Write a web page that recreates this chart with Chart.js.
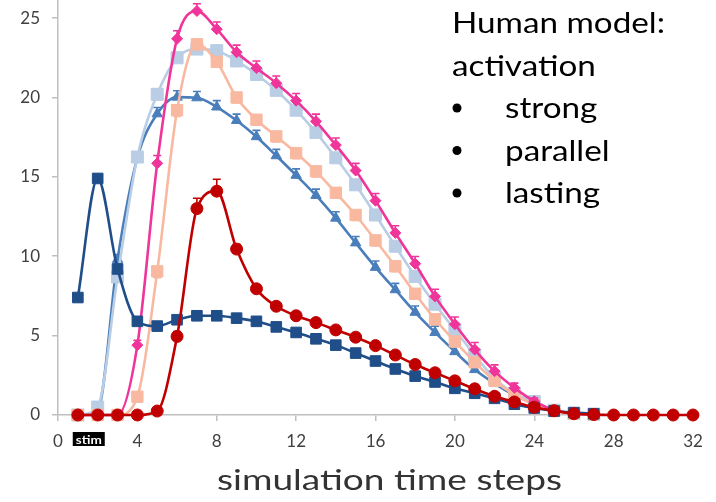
<!DOCTYPE html>
<html>
<head>
<meta charset="utf-8">
<style>
  html, body { margin: 0; padding: 0; background: #fff; }
  #wrap { width: 716px; height: 502px; }
</style>
</head>
<body>
<div id="wrap"><canvas id="myChart" width="716" height="502"></canvas></div>
<script src="https://cdn.jsdelivr.net/npm/chart.js@4.4.0/dist/chart.umd.min.js"></script>
<script>
    // time steps 1..32
    const steps = [1, 2, 3, 4, 5, 6, 7, 8, 9, 10, 11, 12, 13, 14, 15, 16,
        17, 18, 19, 20, 21, 22, 23, 24, 25, 26, 27, 28, 29, 30, 31, 32];
    const xTicks = [0, 4, 8, 12, 16, 20, 24, 28, 32];
    const yTicks = [0, 5, 10, 15, 20, 25];

    const navy = [7.4, 14.9, 9.2, 5.9, 5.6, 6.0, 6.25, 6.25, 6.1, 5.9, 5.55, 5.2, 4.8, 4.4, 3.9, 3.4,
        2.9, 2.45, 2.08, 1.68, 1.37, 1.05, 0.68, 0.44, 0.25, 0.15, 0.08];
    const red = [0, 0, 0, 0, 0.25, 4.95, 13.0, 14.1, 10.45, 7.95, 6.85, 6.25, 5.82, 5.36, 4.9, 4.37,
        3.78, 3.18, 2.66, 2.15, 1.65, 1.18, 0.82, 0.49, 0.27, 0.08, 0.03, 0, 0, 0, 0, 0];
    const pink = [0, 0, 0, 4.4, 15.85, 23.7, 25.45, 24.3, 22.85, 21.85, 20.9, 19.8, 18.5, 17.0, 15.4, 13.5,
        11.47, 9.53, 7.47, 5.72, 4.12, 2.76, 1.71, 0.87, 0.3, 0.1, 0.05];
    const lightBlue = [0, 0.5, 8.7, 16.25, 20.2, 22.5, 23.05, 22.95, 22.3, 21.45, 20.45, 19.2, 17.8, 16.2, 14.5, 12.6,
        10.63, 8.73, 6.98, 5.36, 3.78, 2.3, 1.35, 0.85, 0.3, 0.1, 0.05];
    const salmon = [0, 0, 0, 1.15, 9.05, 19.2, 23.35, 22.25, 20.0, 18.6, 17.55, 16.5, 15.35, 14.0, 12.6, 11.0,
        9.37, 7.64, 6.03, 4.64, 3.32, 2.15, 1.29, 0.65, 0.25, 0.1, 0.05];
    const blue = [0, 0.3, 9.8, 16.2, 18.97, 20.02, 19.98, 19.4, 18.55, 17.53, 16.33, 15.1, 13.83, 12.4, 10.84, 9.3,
        7.89, 6.47, 5.2, 3.99, 2.86, 1.98, 1.25, 0.7, 0.3, 0.1, 0.05];

    // error bar lengths (+ up, - down)
    const redErr = [0, 0, 0, 0, 0.2, 0.3, 0.65, 0.75, 0.3, 0.2, 0.2, 0.2, 0.2, 0.2, 0.2, 0.2,
        0.2, 0.2, 0.2, 0.2, 0.2, 0.1, 0.1, 0.1, 0, 0, 0, 0, 0, 0, 0, 0];
    const pinkErr = [0, 0, 0, 0.3, 0.5, 0.5, 0.45, 0.45, 0.45, 0.45, 0.45, 0.45, 0.45, 0.45, 0.45, 0.45,
        0.45, 0.45, 0.45, 0.45, 0.45, 0.4, 0.3, 0.2, 0, 0, 0];
    const salmonErr = [0, 0, 0, -0.3, -0.4, -0.4, -0.35, -0.35, -0.35, -0.35, -0.35, -0.35, -0.35, -0.35, -0.35, -0.35,
        -0.35, -0.35, -0.35, -0.35, -0.3, -0.3, -0.2, -0.2, 0, 0, 0];
    const blueErr = [0, 0, 0.3, 0.35, 0.4, 0.4, 0.4, 0.4, 0.4, 0.4, 0.4, 0.4, 0.4, 0.4, 0.4, 0.4,
        0.4, 0.4, 0.4, 0.4, 0.35, 0.3, 0.2, 0.2, 0, 0, 0];

    const noteLines = ['Human model:', 'activation'];
    const bullets = ['strong', 'parallel', 'lasting'];

    const pts = vals => vals.map((v, i) => ({ x: steps[i], y: v }));

    function series(vals, color, style, radius, err) {
        return {
            data: pts(vals),
            err: err,
            borderColor: color,
            backgroundColor: color,
            pointBackgroundColor: color,
            pointBorderColor: color,
            pointStyle: style,
            pointRadius: radius,
            pointBorderWidth: 1,
            borderWidth: 2.6,
            cubicInterpolationMode: 'monotone',
            clip: false
        };
    }

    const errorBars = {
        id: 'errorBars',
        afterDatasetDraw(chart, args) {
            const ds = chart.data.datasets[args.index];
            if (!ds.err) return;
            const y = chart.scales.y;
            const ctx = chart.ctx;
            ctx.save();
            ctx.strokeStyle = ds.borderColor;
            ctx.lineWidth = 1.6;
            args.meta.data.forEach((p, i) => {
                const e = ds.err[i] || 0;
                if (!e) return;
                const yEnd = y.getPixelForValue(ds.data[i].y + e);
                ctx.beginPath();
                ctx.moveTo(p.x, p.y);
                ctx.lineTo(p.x, yEnd);
                ctx.moveTo(p.x - 4, yEnd);
                ctx.lineTo(p.x + 4, yEnd);
                ctx.stroke();
            });
            ctx.restore();
        }
    };

    // text drawn stretched sideways to a given width, like the source picture
    function wideText(ctx, text, x, y, width) {
        const w = ctx.measureText(text).width;
        ctx.save();
        ctx.translate(x, y);
        ctx.scale(width / w, 1);
        ctx.fillText(text, 0, 0);
        ctx.restore();
    }

    const labels = {
        id: 'labels',
        afterDraw(chart) {
            const ctx = chart.ctx;
            const x = chart.scales.x;
            ctx.save();
            // stim box under the axis
            const cx = x.getPixelForValue(1.55);
            ctx.fillStyle = '#000';
            ctx.fillRect(cx - 16, 432, 32, 14);
            ctx.fillStyle = '#fff';
            ctx.font = 'bold 12px Lato';
            ctx.textAlign = 'left';
            ctx.textBaseline = 'alphabetic';
            wideText(ctx, 'stim', cx - 13, 443.5, 26);

            // axis title
            ctx.fillStyle = '#333';
            ctx.font = '28px Lato';
            wideText(ctx, 'simulation time steps', 217, 490, 345);

            // annotation
            ctx.fillStyle = '#000';
            ctx.font = '29px Lato';
            const k = 213 / ctx.measureText(noteLines[0]).width;
            noteLines.forEach((t, i) => {
                wideText(ctx, t, 452, 33 + i * 43, ctx.measureText(t).width * k);
            });
            bullets.forEach((t, i) => {
                const by = 118 + i * 42.5;
                ctx.beginPath();
                ctx.arc(457, by - 10, 4.5, 0, Math.PI * 2);
                ctx.fill();
                wideText(ctx, t, 505, by, ctx.measureText(t).width * k);
            });
            ctx.restore();
        }
    };

    Chart.defaults.font.family = 'Lato';

    var ctx = document.getElementById('myChart').getContext('2d');
    var myChart = new Chart(ctx, {
        type: 'line',
        data: {
            datasets: [
                series(red, '#c00000', 'circle', 6, redErr),
                series(navy, '#1f4e89', 'rect', 7.5, null),
                series(pink, '#f0359a', 'rectRot', 5.5, pinkErr),
                series(salmon, '#f9b8a0', 'rect', 8, salmonErr),
                series(lightBlue, '#b9cde5', 'rect', 8.5, null),
                series(blue, '#4a7ebb', 'triangle', 6, blueErr)
            ]
        },
        options: {
            responsive: false,
            animation: false,
            layout: { autoPadding: false, padding: { left: 0, right: 23, top: 0, bottom: 0 } },
            plugins: {
                legend: { display: false },
                tooltip: { enabled: false }
            },
            scales: {
                x: {
                    type: 'linear',
                    min: 0,
                    max: 32,
                    afterBuildTicks: s => { s.ticks = xTicks.map(v => ({ value: v })); },
                    afterFit: s => { s.height = 87; s.paddingLeft = 0; s.paddingRight = 0; },
                    grid: { drawOnChartArea: false, tickLength: 6, color: '#bfbfbf', lineWidth: 1.5 },
                    border: { color: '#bfbfbf', width: 1.5 },
                    ticks: { color: '#404040', font: { size: 17 }, padding: 10, maxRotation: 0 }
                },
                y: {
                    min: 0,
                    max: 26.14,
                    afterBuildTicks: s => { s.ticks = yTicks.map(v => ({ value: v })); },
                    afterFit: s => { s.width = 58; s.paddingTop = 0; s.paddingBottom = 0; },
                    grid: { drawOnChartArea: false, tickLength: 6, color: '#bfbfbf', lineWidth: 1.5 },
                    border: { color: '#bfbfbf', width: 1.5 },
                    ticks: { color: '#404040', font: { size: 17 }, padding: 12 }
                }
            }
        },
        plugins: [errorBars, labels]
    });
</script>
</body>
</html>
